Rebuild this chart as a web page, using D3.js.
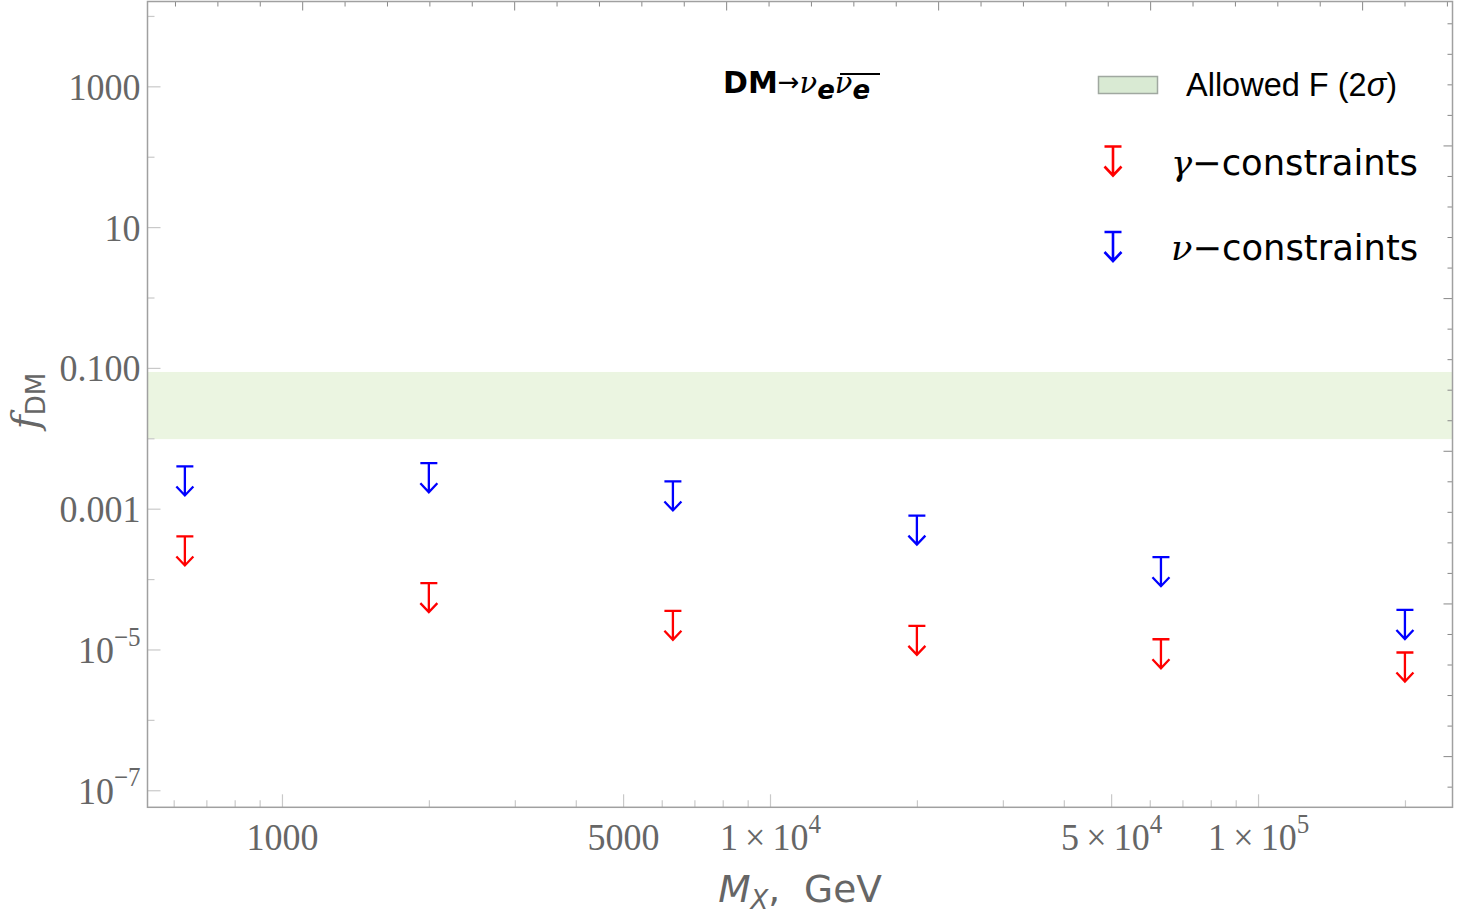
<!DOCTYPE html>
<html>
<head>
<meta charset="utf-8">
<script src="https://cdn.jsdelivr.net/npm/d3@7"></script>
<style>
  body { margin: 0; background: #fff; }
  svg { display: block; }
</style>
</head>
<body>
<svg width="1457" height="917"></svg>
<script>
// masses (GeV) of the points
const masses = [631, 1995, 6310, 19950, 63100, 199500];
// upper limits
const gammaLimits = [4.1e-4, 8.9e-5, 3.6e-5, 2.2e-5, 1.42e-5, 9.2e-6];
const nuLimits = [4.05e-3, 4.5e-3, 2.48e-3, 8.1e-4, 2.08e-4, 3.7e-5];
// allowed band (2 sigma)
const allowedBand = [0.0099, 0.089];
// axis ticks
const yTickValues = [1e3, 1e1, 1e-1, 1e-3, 1e-5, 1e-7];
const yTickLabels = [["1000"], ["10"], ["0.100"], ["0.001"], ["10", "−5"], ["10", "−7"]];
const xTickValues = [1000, 5000, 1e4, 5e4, 1e5];
const xTickLabels = [["1000"], ["5000"], ["1\u2009×\u200910", "4"], ["5\u2009×\u200910", "4"], ["1\u2009×\u200910", "5"]];
const xMinorTicks = [600, 700, 800, 900, 2000, 3000, 4000, 6000, 7000, 8000, 9000,
  2e4, 3e4, 4e4, 6e4, 7e4, 8e4, 9e4, 2e5];
const yMinorTicks = [1e4, 1e2, 1, 1e-2, 1e-4, 1e-6];

const svg = d3.select("svg");
const margens = { left: 147.5, right: 4.5, top: 1.5, bottom: 109.7 };
const width = 1457, height = 917;
const innerWidth = width - margens.left - margens.right;
const innerHeight = height - margens.top - margens.bottom;

const g = svg.append("g").attr("transform", `translate(${margens.left},${margens.top})`);

const x = d3.scaleLog().domain([529, 2.497e5]).range([0, innerWidth]);
const y = d3.scaleLog().domain([1.63e4, 5.82e-8]).range([0, innerHeight]);

// banda permitida
g.append("rect")
  .attr("x", 0).attr("width", innerWidth)
  .attr("y", y(allowedBand[1]))
  .attr("height", y(allowedBand[0]) - y(allowedBand[1]))
  .attr("fill", "#ebf5e1");

const tickLabelFont = "'Liberation Serif', 'DejaVu Serif', serif";

// eixo esquerdo
const yTickColor = "#c9c9c9";
g.selectAll(".ymajor").data(yTickValues).enter().append("line")
  .attr("x1", 0).attr("x2", 13).attr("y1", d => y(d)).attr("y2", d => y(d))
  .attr("stroke", yTickColor).attr("stroke-width", 1.2);
g.selectAll(".yminor").data(yMinorTicks).enter().append("line")
  .attr("x1", 0).attr("x2", 7).attr("y1", d => y(d)).attr("y2", d => y(d))
  .attr("stroke", yTickColor).attr("stroke-width", 1.2);

const yLab = g.selectAll(".ylab").data(yTickValues).enter().append("text")
  .attr("transform", d => `translate(-7,${y(d) + 13}) scale(1,1.08)`)
  .attr("text-anchor", "end")
  .attr("font-family", tickLabelFont).attr("font-size", 36).attr("fill", "#666");
yLab.each(function (d, i) {
  const t = d3.select(this);
  const parts = yTickLabels[i];
  t.append("tspan").text(parts[0]);
  if (parts[1]) t.append("tspan").attr("font-size", 25).attr("dy", -16).text(parts[1]);
});

// eixo de baixo
g.selectAll(".xmajor").data(xTickValues).enter().append("line")
  .attr("x1", d => x(d)).attr("x2", d => x(d)).attr("y1", innerHeight).attr("y2", innerHeight - 13)
  .attr("stroke", yTickColor).attr("stroke-width", 1.2);
g.selectAll(".xminor").data(xMinorTicks).enter().append("line")
  .attr("x1", d => x(d)).attr("x2", d => x(d)).attr("y1", innerHeight).attr("y2", innerHeight - 7)
  .attr("stroke", yTickColor).attr("stroke-width", 1.2);

const xLab = g.selectAll(".xlab").data(xTickValues).enter().append("text")
  .attr("transform", d => `translate(${x(d)},${innerHeight + 43}) scale(1,1.08)`)
  .attr("text-anchor", "middle")
  .attr("font-family", tickLabelFont).attr("font-size", 36).attr("fill", "#666");
xLab.each(function (d, i) {
  const t = d3.select(this);
  const parts = xTickLabels[i];
  t.append("tspan").text(parts[0]);
  if (parts[1]) t.append("tspan").attr("font-size", 25).attr("dy", -16).text(parts[1]);
});

// ticks do topo e da direita (escala linear do Mathematica)
const topScale = d3.scaleLinear().domain([-0.66, 30.12]).range([0, innerWidth]);
const topTicks = d3.range(0, 31);
g.selectAll(".ttop").data(topTicks).enter().append("line")
  .attr("x1", d => topScale(d)).attr("x2", d => topScale(d))
  .attr("y1", 0).attr("y2", d => (d - 3) % 5 === 0 ? 9 : 5)
  .attr("stroke", "#888").attr("stroke-width", 1);

const rightScale = d3.scaleLinear().domain([-4.73, 21.66]).range([0, innerHeight]);
const rightTicks = d3.range(-4, 22);
g.selectAll(".tright").data(rightTicks).enter().append("line")
  .attr("x1", innerWidth).attr("x2", d => innerWidth - ((d % 5 + 5) % 5 === 0 ? 9 : 5))
  .attr("y1", d => rightScale(d)).attr("y2", d => rightScale(d))
  .attr("stroke", "#888").attr("stroke-width", 1);

// moldura
g.append("rect")
  .attr("width", innerWidth).attr("height", innerHeight)
  .attr("fill", "none").attr("stroke", "#a0a0a0").attr("stroke-width", 1.5);

// seta de limite superior
function arrowPath(cx, cy) {
  return `M${cx - 8.5},${cy}H${cx + 8.5}M${cx},${cy}V${cy + 29}` +
    `M${cx - 8.5},${cy + 20}L${cx},${cy + 29}L${cx + 8.5},${cy + 20}`;
}

const gammaData = masses.map((m, i) => ({ m, v: gammaLimits[i] }));
const nuData = masses.map((m, i) => ({ m, v: nuLimits[i] }));

g.selectAll(".gamma").data(gammaData).enter().append("path")
  .attr("d", d => arrowPath(x(d.m), y(d.v)))
  .attr("fill", "none").attr("stroke", "#ff0000").attr("stroke-width", 2.3);
g.selectAll(".nu").data(nuData).enter().append("path")
  .attr("d", d => arrowPath(x(d.m), y(d.v)))
  .attr("fill", "none").attr("stroke", "#0000ff").attr("stroke-width", 2.3);

// titulo do canal
const title = svg.append("text").attr("x", 723).attr("y", 93)
  .attr("font-family", "'DejaVu Sans', sans-serif").attr("font-size", 30).attr("fill", "#000");
title.append("tspan").attr("font-weight", "bold").text("DM");
title.append("tspan").attr("font-size", 26).attr("dy", -2).text("→");
title.append("tspan").attr("font-family", "'DejaVu Serif', serif").attr("font-style", "italic").attr("font-size", 29).attr("dy", 2).text("ν");
title.append("tspan").attr("font-weight", "bold").attr("font-style", "italic").attr("font-size", 26).attr("dy", 6).text("e");
title.append("tspan").attr("font-family", "'DejaVu Serif', serif").attr("font-style", "italic").attr("font-size", 29).attr("dy", -6).text("ν");
title.append("tspan").attr("font-weight", "bold").attr("font-style", "italic").attr("font-size", 26).attr("dy", 6).text("e");
svg.append("line").attr("x1", 840).attr("x2", 880).attr("y1", 74).attr("y2", 74)
  .attr("stroke", "#000").attr("stroke-width", 2.2);

// legenda
svg.append("rect").attr("x", 1098.5).attr("y", 76.5).attr("width", 59).attr("height", 17)
  .attr("fill", "#d9ead3").attr("stroke", "#a0a8a0").attr("stroke-width", 1.5);
svg.append("text").attr("x", 1186).attr("y", 96)
  .attr("font-family", "'Liberation Sans', Arial, sans-serif").attr("font-size", 32.5).attr("fill", "#000")
  .html("Allowed F (2<tspan font-style='italic'>σ</tspan>)");

svg.append("path").attr("d", arrowPath(1113, 146.5))
  .attr("fill", "none").attr("stroke", "#ff0000").attr("stroke-width", 2.6);
svg.append("path").attr("d", arrowPath(1113, 232))
  .attr("fill", "none").attr("stroke", "#0000ff").attr("stroke-width", 2.6);

const legendItems = [["γ", 175], ["ν", 260]];
legendItems.forEach(([sym, yy]) => {
  const t = svg.append("text").attr("x", 1171).attr("y", yy)
    .attr("font-family", "'DejaVu Sans', sans-serif").attr("font-size", 35.3).attr("fill", "#000");
  t.append("tspan").attr("font-family", "'DejaVu Serif', serif").attr("font-style", "italic").text(sym);
  t.append("tspan").text("−constraints");
});

// rotulo do eixo X
const xTitle = svg.append("text").attr("x", 800).attr("y", 902).attr("text-anchor", "middle")
  .attr("font-family", "'DejaVu Sans', sans-serif").attr("font-size", 37.5).attr("fill", "#666");
xTitle.append("tspan").attr("font-style", "italic").text("M");
xTitle.append("tspan").attr("font-style", "italic").attr("font-size", 26).attr("dy", 7).text("X");
xTitle.append("tspan").attr("dy", -7).text(",\u00a0 GeV");

// rotulo do eixo Y
const yTitle = svg.append("text")
  .attr("transform", "translate(38,401) rotate(-90)")
  .attr("text-anchor", "middle")
  .attr("font-family", "'DejaVu Sans', sans-serif").attr("font-size", 38).attr("fill", "#666");
yTitle.append("tspan").attr("font-family", "'DejaVu Serif', serif").attr("font-style", "italic").text("f");
yTitle.append("tspan").attr("font-size", 26).attr("dy", 7).text("DM");
</script>
</body>
</html>
